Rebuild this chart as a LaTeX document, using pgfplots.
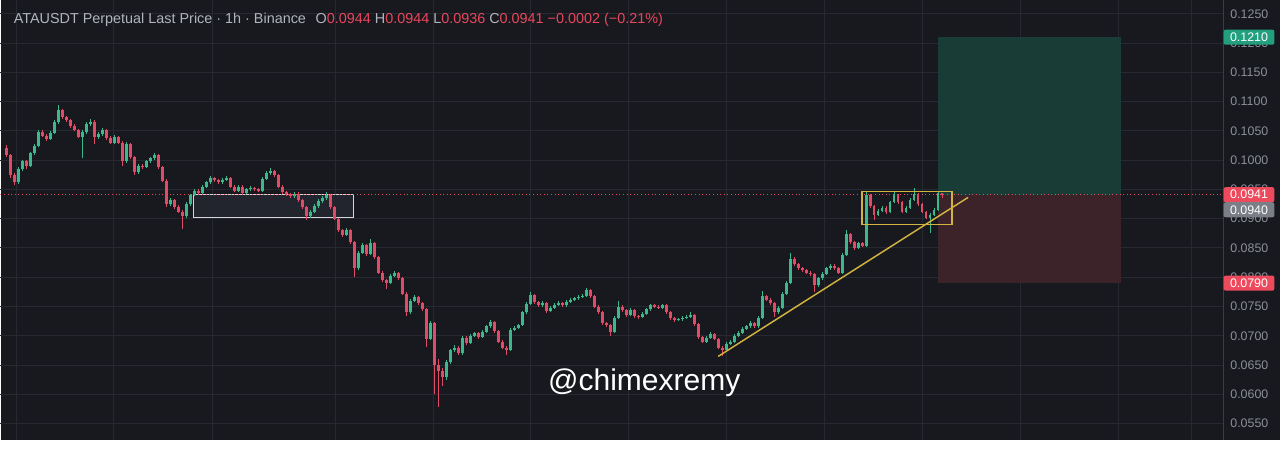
\documentclass[border=0pt]{standalone}
\usepackage{pgfplots}
\pgfplotsset{compat=1.18}
\usepackage{pgfplotstable}
\usepackage{fontspec}
\setmainfont{Liberation Sans}
\definecolor{bgc}{HTML}{17191F}
\definecolor{gridc}{HTML}{262932}
\definecolor{sepc}{HTML}{3A3D46}
\definecolor{upc}{HTML}{3DB88C}
\definecolor{dnc}{HTML}{E04B66}
\definecolor{tpc}{HTML}{193C37}
\definecolor{slc}{HTML}{3B2329}
\definecolor{txtc}{HTML}{B2B5BE}
\definecolor{tickc}{HTML}{8C8F98}
\definecolor{valc}{HTML}{E8475C}
\definecolor{ylw}{HTML}{D2B33F}
\definecolor{boxg}{HTML}{22A07E}
\definecolor{boxr}{HTML}{EE4A5E}
\definecolor{boxgr}{HTML}{7B7E87}
\definecolor{zonec}{HTML}{22252E}
\definecolor{zoneb}{HTML}{D5D6DA}

\pgfplotstableread{
x o h l c
6 0.1020 0.1026 0.1005 0.1008
10 0.1008 0.1010 0.0970 0.0975
14 0.0975 0.0978 0.0957 0.0962
18 0.0962 0.0988 0.0960 0.0985
22 0.0985 0.1001 0.0982 0.0998
26 0.0998 0.1000 0.0985 0.0990
30 0.0990 0.1014 0.0988 0.1012
34 0.1012 0.1028 0.1008 0.1025
38 0.1025 0.1052 0.1022 0.1048
42 0.1048 0.1051 0.1039 0.1042
46 0.1042 0.1045 0.1033 0.1036
50 0.1036 0.1050 0.1034 0.1047
54 0.1047 0.1068 0.1044 0.1065
58 0.1065 0.1095 0.1062 0.1085
62 0.1085 0.1088 0.1070 0.1073
66 0.1073 0.1076 0.1065 0.1068
70 0.1068 0.1071 0.1055 0.1058
74 0.1058 0.1061 0.1049 0.1052
78 0.1052 0.1054 0.1037 0.1040
82 0.1040 0.1051 0.1003 0.1048
86 0.1048 0.1065 0.1045 0.1062
90 0.1062 0.1070 0.1058 0.1066
94 0.1066 0.1068 0.1028 0.1040
98 0.1040 0.1048 0.1036 0.1045
102 0.1045 0.1055 0.1042 0.1052
106 0.1052 0.1054 0.1035 0.1038
110 0.1038 0.1041 0.1027 0.1030
114 0.1030 0.1043 0.1028 0.1040
118 0.1040 0.1042 0.1027 0.1030
122 0.1030 0.1032 0.0990 0.0998
126 0.0998 0.1031 0.0995 0.1028
130 0.1028 0.1030 0.1002 0.1005
134 0.1005 0.1007 0.0975 0.0980
138 0.0980 0.0993 0.0977 0.0990
142 0.0990 0.0993 0.0985 0.0988
146 0.0988 0.1001 0.0986 0.0998
150 0.0998 0.1005 0.0995 0.1003
154 0.1003 0.1012 0.1000 0.1008
158 0.1008 0.1010 0.0985 0.0988
162 0.0988 0.0990 0.0962 0.0965
166 0.0965 0.0967 0.0920 0.0925
170 0.0925 0.0935 0.0922 0.0932
174 0.0932 0.0934 0.0917 0.0920
178 0.0920 0.0923 0.0909 0.0912
182 0.0912 0.0915 0.0883 0.0905
186 0.0905 0.0928 0.0902 0.0925
190 0.0925 0.0943 0.0922 0.0940
194 0.0940 0.0951 0.0938 0.0948
198 0.0948 0.0950 0.0941 0.0944
202 0.0944 0.0958 0.0942 0.0955
206 0.0955 0.0965 0.0952 0.0962
210 0.0962 0.0973 0.0960 0.0970
214 0.0970 0.0972 0.0963 0.0966
218 0.0966 0.0968 0.0959 0.0962
222 0.0962 0.0969 0.0960 0.0966
226 0.0966 0.0973 0.0964 0.0970
230 0.0970 0.0972 0.0952 0.0955
234 0.0955 0.0957 0.0945 0.0948
238 0.0948 0.0958 0.0946 0.0955
242 0.0955 0.0957 0.0941 0.0944
246 0.0944 0.0953 0.0942 0.0950
250 0.0950 0.0956 0.0948 0.0953
254 0.0953 0.0955 0.0947 0.0950
258 0.0950 0.0952 0.0945 0.0948
262 0.0948 0.0971 0.0946 0.0968
266 0.0968 0.0981 0.0966 0.0978
270 0.0978 0.0986 0.0975 0.0982
274 0.0982 0.0984 0.0972 0.0975
278 0.0975 0.0977 0.0952 0.0955
282 0.0955 0.0957 0.0942 0.0945
286 0.0945 0.0948 0.0939 0.0942
290 0.0942 0.0944 0.0935 0.0938
294 0.0938 0.0946 0.0936 0.0943
298 0.0943 0.0945 0.0929 0.0932
302 0.0932 0.0934 0.0917 0.0920
306 0.0920 0.0922 0.0898 0.0905
310 0.0905 0.0915 0.0902 0.0912
314 0.0912 0.0925 0.0910 0.0922
318 0.0922 0.0933 0.0919 0.0930
322 0.0930 0.0938 0.0927 0.0935
326 0.0935 0.0946 0.0932 0.0940
330 0.0940 0.0942 0.0917 0.0920
334 0.0920 0.0922 0.0897 0.0900
338 0.0900 0.0902 0.0877 0.0880
342 0.0880 0.0882 0.0869 0.0872
346 0.0872 0.0884 0.0870 0.0880
350 0.0880 0.0882 0.0857 0.0860
354 0.0860 0.0862 0.0800 0.0815
358 0.0815 0.0845 0.0812 0.0842
362 0.0842 0.0858 0.0840 0.0855
366 0.0855 0.0857 0.0837 0.0840
370 0.0840 0.0865 0.0838 0.0858
374 0.0858 0.0860 0.0832 0.0835
378 0.0835 0.0837 0.0805 0.0808
382 0.0808 0.0810 0.0792 0.0795
386 0.0795 0.0797 0.0780 0.0790
390 0.0790 0.0806 0.0788 0.0803
394 0.0803 0.0810 0.0800 0.0807
398 0.0807 0.0809 0.0795 0.0798
402 0.0798 0.0800 0.0769 0.0772
406 0.0772 0.0774 0.0733 0.0740
410 0.0740 0.0763 0.0738 0.0760
414 0.0760 0.0769 0.0757 0.0766
418 0.0766 0.0768 0.0753 0.0756
422 0.0756 0.0758 0.0742 0.0745
426 0.0745 0.0747 0.0681 0.0695
430 0.0695 0.0726 0.0692 0.0722
434 0.0722 0.0724 0.0600 0.0650
438 0.0650 0.0660 0.0578 0.0640
442 0.0640 0.0645 0.0615 0.0630
446 0.0630 0.0658 0.0625 0.0655
450 0.0655 0.0678 0.0652 0.0675
454 0.0675 0.0684 0.0672 0.0680
458 0.0680 0.0682 0.0667 0.0670
462 0.0670 0.0700 0.0668 0.0697
466 0.0697 0.0699 0.0685 0.0688
470 0.0688 0.0703 0.0686 0.0700
474 0.0700 0.0707 0.0698 0.0704
478 0.0704 0.0706 0.0695 0.0698
482 0.0698 0.0710 0.0696 0.0707
486 0.0707 0.0719 0.0705 0.0716
490 0.0716 0.0727 0.0714 0.0724
494 0.0724 0.0726 0.0705 0.0708
498 0.0708 0.0710 0.0687 0.0690
502 0.0690 0.0692 0.0677 0.0680
506 0.0680 0.0682 0.0668 0.0676
510 0.0676 0.0713 0.0674 0.0710
514 0.0710 0.0717 0.0708 0.0714
518 0.0714 0.0721 0.0712 0.0718
522 0.0718 0.0743 0.0716 0.0740
526 0.0740 0.0758 0.0738 0.0755
530 0.0755 0.0775 0.0753 0.0770
534 0.0770 0.0772 0.0755 0.0758
538 0.0758 0.0760 0.0749 0.0752
542 0.0752 0.0759 0.0750 0.0756
546 0.0756 0.0758 0.0739 0.0742
550 0.0742 0.0751 0.0740 0.0748
554 0.0748 0.0756 0.0746 0.0753
558 0.0753 0.0759 0.0751 0.0756
562 0.0756 0.0758 0.0749 0.0752
566 0.0752 0.0761 0.0750 0.0758
570 0.0758 0.0765 0.0756 0.0762
574 0.0762 0.0767 0.0760 0.0764
578 0.0764 0.0769 0.0762 0.0766
582 0.0766 0.0771 0.0764 0.0768
586 0.0768 0.0782 0.0766 0.0778
590 0.0778 0.0780 0.0765 0.0768
594 0.0768 0.0770 0.0747 0.0750
598 0.0750 0.0752 0.0737 0.0740
602 0.0740 0.0742 0.0719 0.0722
606 0.0722 0.0724 0.0715 0.0718
610 0.0718 0.0720 0.0700 0.0706
614 0.0706 0.0733 0.0704 0.0730
618 0.0730 0.0760 0.0728 0.0750
622 0.0750 0.0752 0.0741 0.0744
626 0.0744 0.0746 0.0732 0.0735
630 0.0735 0.0747 0.0733 0.0744
634 0.0744 0.0746 0.0731 0.0734
638 0.0734 0.0736 0.0729 0.0732
642 0.0732 0.0741 0.0730 0.0738
646 0.0738 0.0748 0.0736 0.0745
650 0.0745 0.0755 0.0743 0.0752
654 0.0752 0.0754 0.0747 0.0750
658 0.0750 0.0752 0.0745 0.0748
662 0.0748 0.0755 0.0746 0.0752
666 0.0752 0.0754 0.0737 0.0740
670 0.0740 0.0742 0.0727 0.0730
674 0.0730 0.0732 0.0724 0.0727
678 0.0727 0.0731 0.0725 0.0728
682 0.0728 0.0733 0.0726 0.0730
686 0.0730 0.0735 0.0728 0.0732
690 0.0732 0.0740 0.0730 0.0736
694 0.0736 0.0738 0.0717 0.0720
698 0.0720 0.0722 0.0695 0.0698
702 0.0698 0.0700 0.0687 0.0690
706 0.0690 0.0700 0.0688 0.0697
710 0.0697 0.0706 0.0695 0.0703
714 0.0703 0.0705 0.0692 0.0695
718 0.0695 0.0697 0.0677 0.0680
722 0.0680 0.0682 0.0666 0.0676
726 0.0676 0.0689 0.0674 0.0686
730 0.0686 0.0693 0.0684 0.0690
734 0.0690 0.0703 0.0688 0.0700
738 0.0700 0.0708 0.0698 0.0705
742 0.0705 0.0715 0.0703 0.0712
746 0.0712 0.0719 0.0710 0.0716
750 0.0716 0.0725 0.0714 0.0722
754 0.0722 0.0724 0.0713 0.0716
758 0.0716 0.0733 0.0714 0.0730
762 0.0730 0.0777 0.0728 0.0768
766 0.0768 0.0770 0.0759 0.0762
770 0.0762 0.0764 0.0753 0.0756
774 0.0756 0.0758 0.0732 0.0740
778 0.0740 0.0751 0.0738 0.0748
782 0.0748 0.0775 0.0746 0.0772
786 0.0772 0.0793 0.0770 0.0790
790 0.0790 0.0841 0.0788 0.0832
794 0.0832 0.0834 0.0819 0.0822
798 0.0822 0.0824 0.0813 0.0816
802 0.0816 0.0818 0.0809 0.0812
806 0.0812 0.0814 0.0805 0.0808
810 0.0808 0.0811 0.0803 0.0806
814 0.0806 0.0808 0.0774 0.0786
818 0.0786 0.0801 0.0784 0.0798
822 0.0798 0.0809 0.0796 0.0806
826 0.0806 0.0818 0.0804 0.0815
830 0.0815 0.0823 0.0813 0.0820
834 0.0820 0.0822 0.0812 0.0815
838 0.0815 0.0817 0.0805 0.0808
842 0.0808 0.0841 0.0806 0.0838
846 0.0838 0.0880 0.0836 0.0874
850 0.0874 0.0876 0.0857 0.0860
854 0.0860 0.0862 0.0847 0.0850
858 0.0850 0.0861 0.0848 0.0858
862 0.0858 0.0860 0.0851 0.0854
866 0.0854 0.0946 0.0852 0.0940
870 0.0940 0.0942 0.0919 0.0922
874 0.0922 0.0924 0.0897 0.0906
878 0.0906 0.0917 0.0904 0.0914
882 0.0914 0.0922 0.0912 0.0919
886 0.0919 0.0921 0.0908 0.0911
890 0.0911 0.0931 0.0909 0.0928
894 0.0928 0.0946 0.0926 0.0940
898 0.0940 0.0942 0.0925 0.0928
902 0.0928 0.0930 0.0909 0.0912
906 0.0912 0.0922 0.0910 0.0919
910 0.0919 0.0935 0.0917 0.0932
914 0.0932 0.0953 0.0930 0.0942
918 0.0942 0.0944 0.0922 0.0925
922 0.0925 0.0927 0.0909 0.0912
926 0.0912 0.0914 0.0899 0.0902
930 0.0902 0.0909 0.0875 0.0906
934 0.0906 0.0918 0.0904 0.0915
938 0.0915 0.0946 0.0913 0.0944
942 0.0944 0.0944 0.0936 0.0941
}\candles

\begin{document}
\begin{tikzpicture}
\fill[bgc] (0,0) rectangle (960pt,330pt);
\begin{axis}[
  at={(0pt,0pt)}, anchor=south west,
  scale only axis, width=917.25pt, height=330pt,
  xmin=0, xmax=1223, ymin=0.05215, ymax=0.12727,
  axis line style={draw=none},
  major tick length=0pt,
  xtick={16,113,212,335,433,530,628,726,824,922,1020,1118,1191},
  xticklabels={},
  ytick={0.055,0.060,0.065,0.070,0.075,0.080,0.085,0.090,0.095,0.100,0.105,0.110,0.115,0.120,0.125},
  yticklabel pos=right,
  /pgf/number format/assume math mode=true,
  yticklabel style={/pgf/number format/.cd, fixed, fixed zerofill, precision=4, /tikz/.cd,
    font=\fontsize{9.3}{11}\selectfont, text=tickc, anchor=west, xshift=2pt},
  xmajorgrids, ymajorgrids,
  grid style={gridc, line width=0.75pt},
  candle/.style={only marks, mark=*, mark size=0pt, mark options={draw=none, fill=none}, forget plot},
]
% trade zones
\fill[tpc] (axis cs:938,0.0941) rectangle (axis cs:1121,0.1210);
\fill[slc] (axis cs:938,0.0790) rectangle (axis cs:1121,0.0941);
% white zone box
\filldraw[fill=zonec, draw=zoneb, line width=1.1pt] (axis cs:193,0.09022) rectangle (axis cs:353,0.0941);
% last price dotted line
\draw[valc, dotted, line width=0.7pt] (axis cs:0,0.0941) -- (axis cs:1223,0.0941);

% wicks
\addplot[candle,
  restrict expr to domain={\thisrow{c}-\thisrow{o}}{0:1},
  error bars/.cd, y dir=plus, y explicit, error mark=none,
  error bar style={upc, line width=0.75pt}]
  table[x=x, y=l, y error expr=\thisrow{h}-\thisrow{l}] {\candles};
\addplot[candle,
  restrict expr to domain={\thisrow{c}-\thisrow{o}}{-1:-0.00001},
  error bars/.cd, y dir=plus, y explicit, error mark=none,
  error bar style={dnc, line width=0.75pt}]
  table[x=x, y=l, y error expr=\thisrow{h}-\thisrow{l}] {\candles};
% bodies
\addplot[candle,
  restrict expr to domain={\thisrow{c}-\thisrow{o}}{0:1},
  error bars/.cd, y dir=plus, y explicit, error mark=none,
  error bar style={upc, line width=2pt}]
  table[x=x, y=o, y error expr=\thisrow{c}-\thisrow{o}] {\candles};
\addplot[candle,
  restrict expr to domain={\thisrow{c}-\thisrow{o}}{-1:-0.00001},
  error bars/.cd, y dir=plus, y explicit, error mark=none,
  error bar style={dnc, line width=2pt}]
  table[x=x, y=c, y error expr=\thisrow{o}-\thisrow{c}] {\candles};

% yellow range box and trendline
\draw[ylw, line width=1.1pt] (axis cs:862,0.08897) rectangle (axis cs:952,0.09461);
\draw[ylw, line width=1.1pt] (axis cs:718,0.06649) -- (axis cs:968,0.09364);

% header
\node[anchor=base west, inner sep=0pt, text=txtc, font=\fontsize{10.8}{12}\selectfont]
  at (axis cs:13,0.12334) {ATAUSDT Perpetual Last Price · 1h · Binance};
\node[anchor=base west, inner sep=0pt, text=txtc, font=\fontsize{10.8}{12}\selectfont]
  at (axis cs:315,0.12334) {O\textcolor{valc}{0.0944} H\textcolor{valc}{0.0944} L\textcolor{valc}{0.0936} C\textcolor{valc}{0.0941} \textcolor{valc}{−0.0002 (−0.21\%)}};
% watermark
\node[anchor=base, inner sep=0pt, text=white, font=\fontsize{22.5}{26}\selectfont]
  at (axis cs:644,0.0607) {@chimexremy};

\coordinate (labA) at (axis cs:1249,0.1210);
\coordinate (labB) at (axis cs:1249,0.0941);
\coordinate (labC) at (axis cs:1249,0.0790);
\end{axis}
\draw[sepc, line width=0.75pt] (917.25pt,0pt) -- (917.25pt,330pt);
\tikzset{pl/.style={text=white, rounded corners=1.5pt, minimum width=38pt, minimum height=11.3pt, inner sep=0pt, font=\fontsize{9.3}{10}\selectfont}}
\node[pl, fill=boxg] at (labA) {0.1210};
\node[pl, fill=boxr] at (labB) {0.0941};
\node[pl, fill=boxgr] at ([yshift=-11.3pt]labB) {0.0940};
\node[pl, fill=boxr] at (labC) {0.0790};
\end{tikzpicture}
\end{document}
